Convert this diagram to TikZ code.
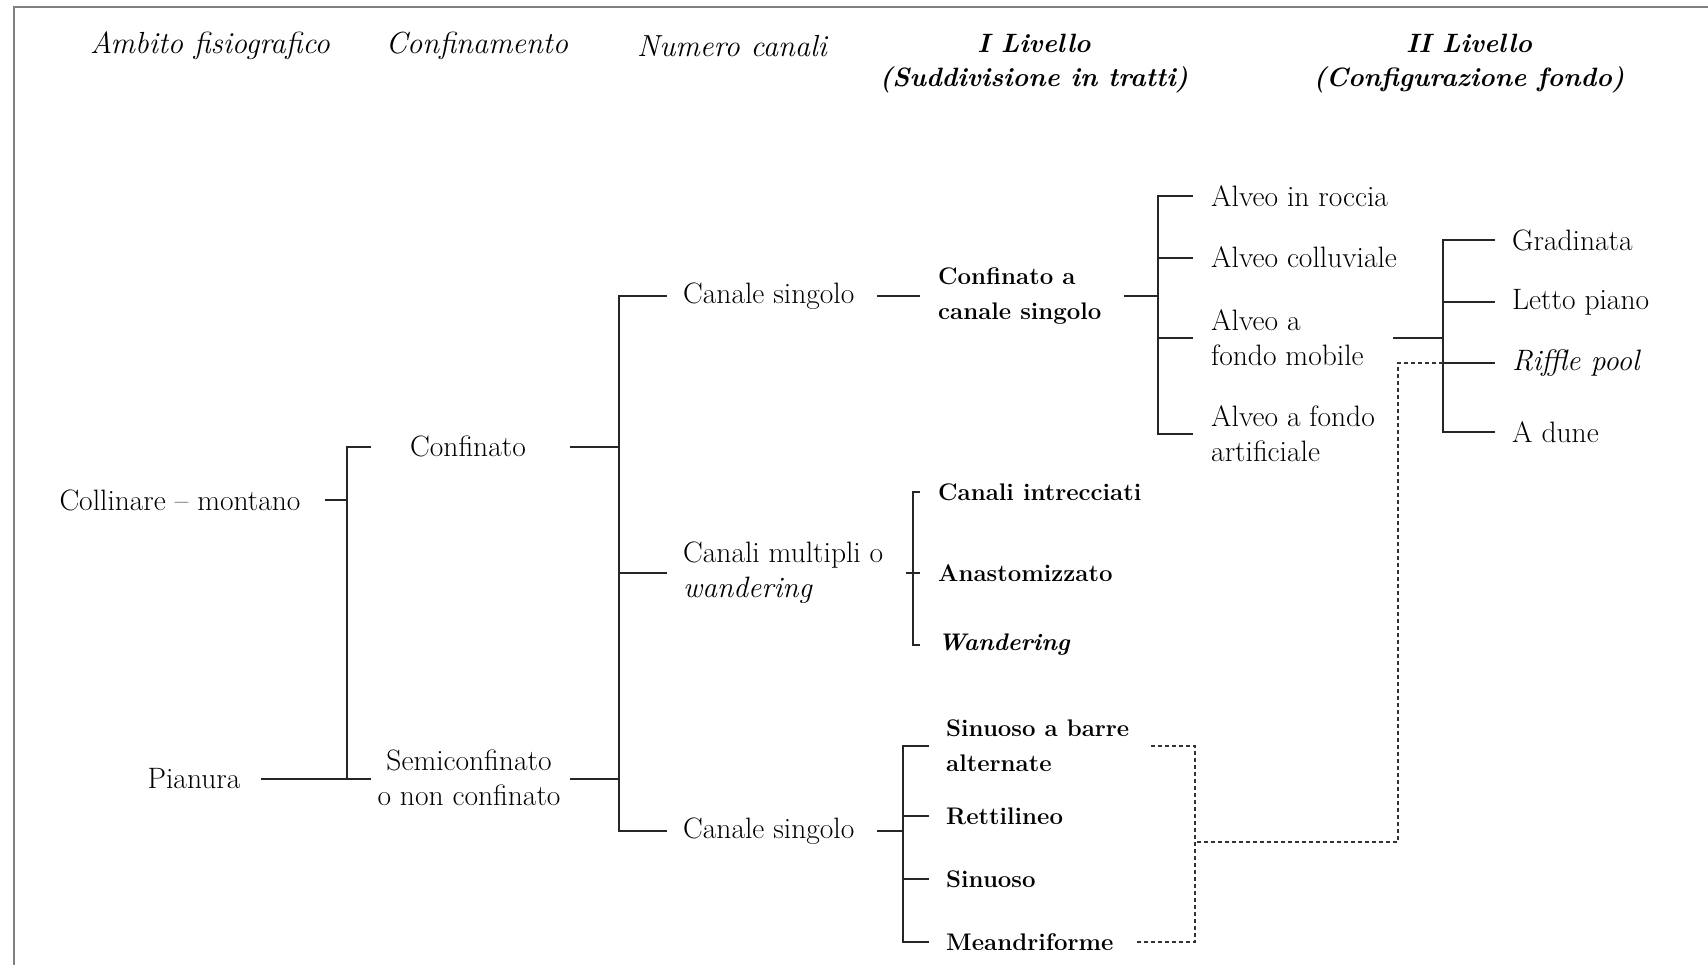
\documentclass[tikz,border=0pt]{standalone}
\usepackage{tikz}
\tikzset{
  txt/.style={font=\fontsize{29.5}{35}\selectfont, inner sep=0pt, align=left},
  ctxt/.style={font=\fontsize{29.5}{35}\selectfont, inner sep=0pt, align=center},
  btxt/.style={font=\fontsize{24}{35}\selectfont\bfseries, inner sep=0pt, align=left, anchor=west},
  ltxt/.style={txt, anchor=west},
  hd/.style={font=\fontsize{30.5}{34}\selectfont\itshape, inner sep=0pt, align=center},
  hdb/.style={font=\fontsize{26.5}{34}\selectfont\bfseries\itshape, inner sep=0pt, align=center},
  ln/.style={line width=1.4pt, black!85},
  dsh/.style={line width=1.2pt, black!80, dash pattern=on 4pt off 3pt},
  framel/.style={line width=2pt, black!50}
}
\begin{document}
\begin{tikzpicture}[x=1pt,y=-1pt]
\useasboundingbox (0,0) rectangle (1708,965);
\draw[framel] (14,965) -- (14,7) -- (1708,7);

% headers
\node[hd] (hd1) at (210,46) {Ambito fisiografico};
\node[hd] (hd2) at (477,46) {Confinamento};
\node[hd] (hd3) at (732,46) {Numero canali};
\node[hdb] (hd4) at (1034,64) {I Livello\\(Suddivisione in tratti)};
\node[hdb] (hd5) at (1469,64) {II Livello\\(Configurazione fondo)};

% level nodes
\node[ctxt] (coll) at (180,500) {Collinare -- montano};
\node[ctxt] (pian) at (194,779) {Pianura};
\node[ctxt] (conf) at (468,446) {Confinato};
\node[ctxt] (semi) at (469,778) {Semiconfinato\\o non confinato};
\node[ltxt] (cs1) at (683,296) {Canale singolo};
\node[ltxt] (cm) at (683,573) {Canali multipli o\\\textit{wandering}};
\node[ltxt] (cs2) at (683,831) {Canale singolo};
\node[btxt] (cacs) at (938,296) {Confinato a\\canale singolo};
\node[ltxt] (ar) at (1211,196) {Alveo in roccia};
\node[ltxt] (ac) at (1211,257) {Alveo colluviale};
\node[ltxt] (am) at (1211,338) {Alveo a\\fondo mobile};
\node[ltxt] (aa) at (1211,434) {Alveo a fondo\\artificiale};
\node[ltxt] (gr) at (1512,240) {Gradinata};
\node[ltxt] (lp) at (1512,302) {Letto piano};
\node[ltxt] (rp) at (1512,363) {\textit{Riffle pool}};
\node[ltxt] (ad) at (1512,432) {A dune};
\node[btxt] (ci) at (938,492) {Canali intrecciati};
\node[btxt] (an) at (938,573) {Anastomizzato};
\node[btxt] (wa) at (938,645) {\textit{Wandering}};
\node[btxt] (sb) at (946,746) {Sinuoso a barre\\alternate};
\node[btxt] (re) at (946,816) {Rettilineo};
\node[btxt] (si) at (946,879) {Sinuoso};
\node[btxt] (me) at (946,942) {Meandriforme};

% coordinates
\coordinate (a1) at (325,500); \coordinate (a2) at (347,500);
\coordinate (p1) at (261,779); \coordinate (p2) at (347,779); \coordinate (p3) at (371,779);
\coordinate (t1) at (347,447); \coordinate (t2) at (371,447);
\coordinate (b1) at (570,447); \coordinate (b2) at (619,447);
\coordinate (c1) at (570,779); \coordinate (c2) at (619,779);
\coordinate (v1) at (619,296); \coordinate (v1e) at (667,296);
\coordinate (v2) at (619,573); \coordinate (v2e) at (667,573);
\coordinate (v3) at (619,831); \coordinate (v3e) at (667,831);
\coordinate (d1) at (877,296); \coordinate (d2) at (920,296);
\coordinate (e1) at (1124,296); \coordinate (e2) at (1158,296);
\coordinate (f1) at (1158,196); \coordinate (f1e) at (1193,196);
\coordinate (f2) at (1158,258); \coordinate (f2e) at (1193,258);
\coordinate (f3) at (1158,338); \coordinate (f3e) at (1193,338);
\coordinate (f4) at (1158,434); \coordinate (f4e) at (1193,434);
\coordinate (h1) at (1393,338); \coordinate (h2) at (1443,338);
\coordinate (g1) at (1443,240); \coordinate (g1e) at (1495,240);
\coordinate (g2) at (1443,302); \coordinate (g2e) at (1495,302);
\coordinate (g3) at (1443,363); \coordinate (g3e) at (1495,363);
\coordinate (g4) at (1443,432); \coordinate (g4e) at (1495,432);
\coordinate (k1) at (913,492); \coordinate (k1e) at (920,492);
\coordinate (k2) at (906,573); \coordinate (k2e) at (920,573);
\coordinate (k3) at (913,645); \coordinate (k3e) at (920,645);
\coordinate (m0) at (877,831); \coordinate (m0e) at (903,831);
\coordinate (m1) at (903,746); \coordinate (m1e) at (929,746);
\coordinate (m2) at (903,816); \coordinate (m2e) at (929,816);
\coordinate (m3) at (903,879); \coordinate (m3e) at (929,879);
\coordinate (m4) at (903,942); \coordinate (m4e) at (929,942);
\coordinate (q1) at (1398,363); \coordinate (q2) at (1398,842);
\coordinate (q3) at (1195,842);
\coordinate (r1) at (1151,746); \coordinate (r2) at (1195,746);
\coordinate (r3) at (1195,942); \coordinate (r4) at (1136,942);

% solid connectors
\draw[ln] (a1) -- (a2);
\draw[ln] (p1) -- (p3);
\draw[ln] (t2) -- (t1) -- (p2);
\draw[ln] (b1) -- (b2);
\draw[ln] (c1) -- (c2);
\draw[ln] (v1e) -- (v1) -- (v3) -- (v3e);
\draw[ln] (v2) -- (v2e);
\draw[ln] (d1) -- (d2);
\draw[ln] (e1) -- (e2);
\draw[ln] (f1e) -- (f1) -- (f4) -- (f4e);
\draw[ln] (f2) -- (f2e);
\draw[ln] (f3) -- (f3e);
\draw[ln] (h1) -- (h2);
\draw[ln] (g1e) -- (g1) -- (g4) -- (g4e);
\draw[ln] (g2) -- (g2e);
\draw[ln] (g3) -- (g3e);
\draw[ln] (k1e) -- (k1) -- (k3) -- (k3e);
\draw[ln] (k2) -- (k2e);
\draw[ln] (m0) -- (m0e);
\draw[ln] (m1e) -- (m1) -- (m4) -- (m4e);
\draw[ln] (m2) -- (m2e);
\draw[ln] (m3) -- (m3e);

% dashed connectors
\draw[dsh] (g3) -- (q1) -- (q2) -- (q3);
\draw[dsh] (r1) -- (r2) -- (r3) -- (r4);
\end{tikzpicture}
\end{document}
